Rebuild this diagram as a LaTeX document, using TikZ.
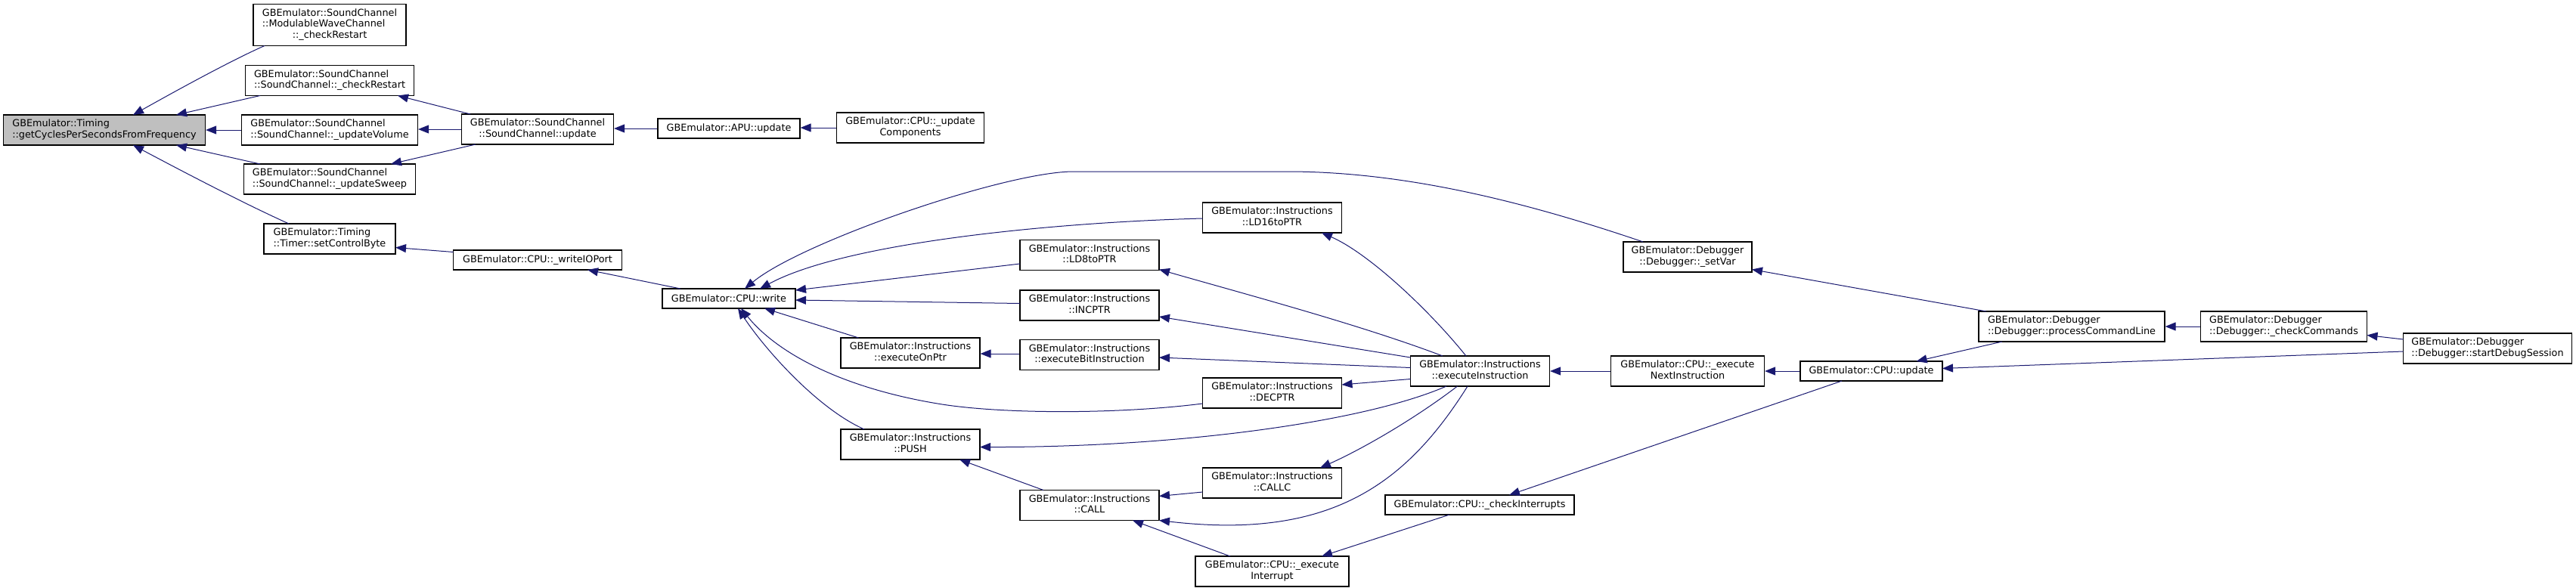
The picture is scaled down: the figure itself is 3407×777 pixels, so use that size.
\documentclass[tikz,border=0pt]{standalone}
\usepackage{fontspec}
\setmainfont{DejaVu Sans}
\usetikzlibrary{arrows.meta,calc}
\definecolor{edgeblue}{RGB}{25,25,112}
\definecolor{rootgray}{RGB}{191,191,191}
\newcommand{\twol}[2]{\begin{tabular}{@{}l@{}}#1\\\multicolumn{1}{@{}c@{}}{#2}\end{tabular}}
\begin{document}
\begin{tikzpicture}[x=1pt,y=-1pt,
  fn/.style={draw=black, line width=1.2pt, fill=white, inner sep=0pt, font=\fontsize{12.8}{14.5}\selectfont, minimum height=40pt},
  one/.style={minimum height=26pt},
  three/.style={minimum height=55pt},
  root/.style={fill=rootgray},
  callarrow/.style={draw=edgeblue, line width=1.0pt, -{Triangle[length=14pt,width=11pt]}}]
\useasboundingbox (0,0) rectangle (3407,777);

% nodes
\node[fn,root,minimum width=267pt] (getCycles) at (138,172) {\twol{GBEmulator::Timing}{::getCyclesPerSecondsFromFrequency}};
\node[fn,three,minimum width=202pt] (modWave) at (436,33) {\twol{GBEmulator::SoundChannel\\::ModulableWaveChannel}{::\_checkRestart}};
\node[fn,minimum width=223pt] (scCheck) at (436,106.5) {\twol{GBEmulator::SoundChannel}{::SoundChannel::\_checkRestart}};
\node[fn,minimum width=233pt] (updVol) at (436,172) {\twol{GBEmulator::SoundChannel}{::SoundChannel::\_updateVolume}};
\node[fn,minimum width=227pt] (updSweep) at (436,237) {\twol{GBEmulator::SoundChannel}{::SoundChannel::\_updateSweep}};
\node[fn,minimum width=174pt] (setCtrl) at (436,316) {\twol{GBEmulator::Timing}{::Timer::setControlByte}};
\node[fn,minimum width=201pt] (scUpdate) at (711,171) {\twol{GBEmulator::SoundChannel}{::SoundChannel::update}};
\node[fn,one,minimum width=188pt] (apuUpdate) at (964,170) {GBEmulator::APU::update};
\node[fn,minimum width=195pt] (updComp) at (1204,169) {\twol{GBEmulator::CPU::\_update}{Components}};
\node[fn,one,minimum width=223pt] (writeIO) at (711,344) {GBEmulator::CPU::\_writeIOPort};
\node[fn,one,minimum width=176pt] (cpuWrite) at (964,395) {GBEmulator::CPU::write};
\node[fn,minimum width=184pt] (execOnPtr) at (1204,467) {\twol{GBEmulator::Instructions}{::executeOnPtr}};
\node[fn,minimum width=184pt] (push) at (1204,588) {\twol{GBEmulator::Instructions}{::PUSH}};
\node[fn,minimum width=184pt] (ld8) at (1441,337.5) {\twol{GBEmulator::Instructions}{::LD8toPTR}};
\node[fn,minimum width=184pt] (incptr) at (1441,404) {\twol{GBEmulator::Instructions}{::INCPTR}};
\node[fn,minimum width=184pt] (execBit) at (1441,469.5) {\twol{GBEmulator::Instructions}{::executeBitInstruction}};
\node[fn,minimum width=184pt] (call) at (1441,668.5) {\twol{GBEmulator::Instructions}{::CALL}};
\node[fn,minimum width=184pt] (ld16) at (1682.5,288) {\twol{GBEmulator::Instructions}{::LD16toPTR}};
\node[fn,minimum width=184pt] (decptr) at (1682.5,520) {\twol{GBEmulator::Instructions}{::DECPTR}};
\node[fn,minimum width=184pt] (callc) at (1682.5,639) {\twol{GBEmulator::Instructions}{::CALLC}};
\node[fn,minimum width=203pt] (execInt) at (1682.5,756) {\twol{GBEmulator::CPU::\_execute}{Interrupt}};
\node[fn,minimum width=184pt] (execInstr) at (1957.5,491) {\twol{GBEmulator::Instructions}{::executeInstruction}};
\node[fn,one,minimum width=250pt] (checkInt) at (1957,668) {GBEmulator::CPU::\_checkInterrupts};
\node[fn,minimum width=170pt] (setVar) at (2232,340) {\twol{GBEmulator::Debugger}{::Debugger::\_setVar}};
\node[fn,minimum width=203pt] (execNext) at (2232,491) {\twol{GBEmulator::CPU::\_execute}{NextInstruction}};
\node[fn,one,minimum width=188pt] (cpuUpdate) at (2475,491) {GBEmulator::CPU::update};
\node[fn,minimum width=246pt] (procCmd) at (2740,432) {\twol{GBEmulator::Debugger}{::Debugger::processCommandLine}};
\node[fn,minimum width=220pt] (checkCmd) at (3020.5,432) {\twol{GBEmulator::Debugger}{::Debugger::\_checkCommands}};
\node[fn,minimum width=223pt] (startDbg) at (3290,461) {\twol{GBEmulator::Debugger}{::Debugger::startDebugSession}};

% edges (arrow head at the called function)
\draw[callarrow] ($(modWave)+(-86,27.5)$) .. controls (310,78) and (240,116) .. ($(getCycles)+(38,-20)$);
\draw[callarrow] ($(scCheck)+(-92,20)$) -- ($(getCycles)+(95,-20)$);
\draw[callarrow] (updVol.west) -- (getCycles.east);
\draw[callarrow] ($(updSweep)+(-92,-20)$) -- ($(getCycles)+(95,20)$);
\draw[callarrow] ($(setCtrl)+(-54,-20)$) .. controls (320,268) and (240,226) .. ($(getCycles)+(38,20)$);
\draw[callarrow] ($(scUpdate)+(-89,-20)$) -- ($(scCheck)+(90,20)$);
\draw[callarrow] (scUpdate.west) -- ($(updVol.east)+(0,-1)$);
\draw[callarrow] ($(scUpdate)+(-82,20)$) -- ($(updSweep)+(81,-20)$);
\draw[callarrow] (apuUpdate.west) -- ($(scUpdate.east)+(0,-1)$);
\draw[callarrow] (updComp.west) -- ($(apuUpdate.east)+(0,-1)$);
\draw[callarrow] ($(writeIO)+(-111.5,-10.5)$) -- ($(setCtrl)+(87,11.5)$);
\draw[callarrow] ($(cpuWrite)+(-64,-13)$) -- ($(writeIO)+(66,13)$);
\draw[callarrow] ($(setVar)+(-59,-20)$) .. controls (2020,268) and (1860,227) .. (1702,227) -- (1420,227) .. controls (1330,227) and (1060,320) .. ($(cpuWrite)+(21,-13)$);
\draw[callarrow] ($(ld16)+(-92,1)$) .. controls (1400,294) and (1120,320) .. ($(cpuWrite)+(41,-13)$);
\draw[callarrow] ($(ld8)+(-92,11.5)$) -- ($(cpuWrite)+(88,-11)$);
\draw[callarrow] ($(incptr)+(-92,-2.5)$) -- ($(cpuWrite)+(88,2)$);
\draw[callarrow] ($(execOnPtr)+(-68.5,-20)$) -- ($(cpuWrite)+(47,13)$);
\draw[callarrow] ($(decptr)+(-92,14)$) .. controls (1480,548) and (1330,548) .. (1246,535) .. controls (1120,515) and (1030,470) .. ($(cpuWrite)+(16,13)$);
\draw[callarrow] ($(push)+(-61,-20)$) .. controls (1080,540) and (1010,460) .. ($(cpuWrite)+(12,13)$);
\draw[callarrow] ($(execInstr)+(-18.5,-20)$) .. controls (1890,410) and (1810,335) .. ($(ld16)+(65.5,20)$);
\draw[callarrow] ($(execInstr)+(-49.5,-20)$) .. controls (1800,430) and (1650,390) .. ($(ld8)+(92,19)$);
\draw[callarrow] ($(execInstr)+(-92,-18)$) -- ($(incptr)+(92,15)$);
\draw[callarrow] ($(execInstr)+(-92,-4.5)$) -- ($(execBit)+(92,3.5)$);
\draw[callarrow] ($(execInstr)+(-92,10.5)$) -- ($(decptr)+(92,-11)$);
\draw[callarrow] ($(execInstr)+(-44.5,20)$) .. controls (1800,560) and (1550,592) .. ($(push)+(92,3.5)$);
\draw[callarrow] ($(execInstr)+(-30,20)$) .. controls (1870,555) and (1800,595) .. ($(callc)+(63.5,-20)$);
\draw[callarrow] ($(execInstr)+(-16.5,20)$) .. controls (1860,640) and (1760,715) .. ($(call)+(92,20)$);
\draw[callarrow] ($(execBit.west)+(0,-1.5)$) -- ($(execOnPtr.east)+(0,1)$);
\draw[callarrow] ($(call)+(-61,-20)$) -- ($(push)+(65,20)$);
\draw[callarrow] ($(callc)+(-92,12)$) -- ($(call)+(92,-12)$);
\draw[callarrow] ($(execInt)+(-55.5,-20)$) -- ($(call)+(57,20)$);
\draw[callarrow] (execNext.west) -- (execInstr.east);
\draw[callarrow] ($(checkInt)+(-40,13)$) -- ($(execInt)+(65.5,-20)$);
\draw[callarrow] ($(cpuUpdate)+(-39,13)$) -- ($(checkInt)+(39,-13)$);
\draw[callarrow] (cpuUpdate.west) -- (execNext.east);
\draw[callarrow] ($(procCmd)+(-113,-20)$) -- ($(setVar)+(85,16.5)$);
\draw[callarrow] ($(procCmd)+(-92,20)$) -- ($(cpuUpdate)+(59.6,-13)$);
\draw[callarrow] (checkCmd.west) -- (procCmd.east);
\draw[callarrow] ($(startDbg)+(-111.5,-12)$) -- ($(checkCmd)+(110,11.5)$);
\draw[callarrow] ($(startDbg)+(-111.5,4)$) -- ($(cpuUpdate)+(94,-3.5)$);
\end{tikzpicture}
\end{document}
